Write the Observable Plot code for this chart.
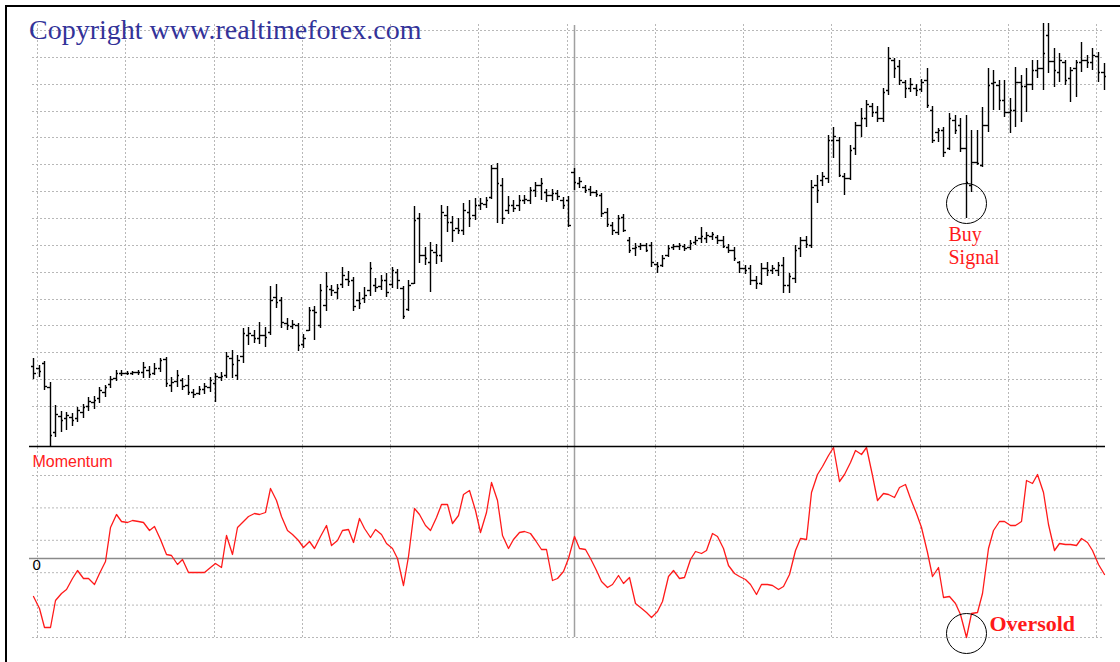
<!DOCTYPE html>
<html><head><meta charset="utf-8">
<script src="https://cdn.jsdelivr.net/npm/d3@7"></script>
<script src="https://cdn.jsdelivr.net/npm/@observablehq/plot@0.6"></script>
<style>
html,body{margin:0;padding:0;background:#fff;}
#wrap{position:relative;width:1120px;height:662px;overflow:hidden;background:#fff;}
#wrap svg{position:absolute;left:0;top:0;}
.frameL{position:absolute;left:5px;top:5px;width:2px;height:657px;background:#000;}
.frameT{position:absolute;left:5px;top:5px;width:1115px;height:2px;background:#000;}
#title{position:absolute;left:29px;top:16px;font-family:"Liberation Serif","Times New Roman",serif;font-size:28px;line-height:28px;color:#333399;white-space:nowrap;z-index:5;}
</style></head>
<body><div id="wrap"><div class="frameL"></div><div class="frameT"></div><div id="title">Copyright www.realtimeforex.com</div></div>
<script>
// ---- data (one entry per daily bar) ----
const high = [
1.1848,1.1841,1.1845,1.1824,1.1801,1.1795,1.1794,1.1793,1.1799,1.1802,
1.1809,1.1810,1.1819,1.1821,1.1830,1.1836,1.1836,1.1835,1.1835,1.1836,
1.1844,1.1840,1.1843,1.1848,1.1849,1.1829,1.1836,1.1828,1.1831,1.1817,
1.1820,1.1823,1.1829,1.1833,1.1834,1.1854,1.1856,1.1851,1.1878,1.1879,
1.1876,1.1884,1.1879,1.1920,1.1922,1.1909,1.1888,1.1886,1.1883,1.1872,
1.1899,1.1900,1.1922,1.1934,1.1921,1.1922,1.1939,1.1935,1.1929,1.1914,
1.1919,1.1944,1.1928,1.1931,1.1933,1.1939,1.1937,1.1920,1.1926,1.2000,
1.1993,1.1959,1.1964,1.1962,1.2001,1.2000,1.1990,1.1988,1.2003,1.2006,
1.2008,1.2008,1.2009,1.2041,1.2043,1.2028,1.2010,1.2006,1.2011,1.2011,
1.2019,1.2024,1.2028,1.2017,1.2017,1.2016,1.2009,1.2010,1.2038,1.2029,
1.2021,1.2020,1.2016,1.2013,1.1998,1.1984,1.1991,1.1992,1.1969,1.1963,
1.1963,1.1963,1.1964,1.1944,1.1951,1.1961,1.1962,1.1963,1.1962,1.1966,
1.1970,1.1979,1.1974,1.1974,1.1971,1.1970,1.1962,1.1959,1.1945,1.1941,
1.1941,1.1930,1.1943,1.1944,1.1941,1.1944,1.1949,1.1933,1.1961,1.1969,
1.1970,1.2026,1.2031,1.2034,1.2071,1.2079,1.2069,1.2033,1.2061,1.2084,
1.2098,1.2106,1.2103,1.2100,1.2118,1.2159,1.2148,1.2146,1.2126,1.2128,
1.2122,1.2127,1.2138,1.2100,1.2078,1.2079,1.2093,1.2091,1.2088,1.2091,
1.2076,1.2076,1.2099,1.2138,1.2136,1.2126,1.2126,1.2108,1.2139,1.2131,
1.2138,1.2146,1.2146,1.2183,1.2183,1.2158,1.2153,1.2146,1.2139,1.2146,
1.2164,1.2151,1.2158,1.2154,1.2143];
const low = [
1.1827,1.1829,1.1816,1.1760,1.1769,1.1774,1.1776,1.1780,1.1784,1.1788,
1.1795,1.1797,1.1803,1.1809,1.1818,1.1825,1.1830,1.1831,1.1831,1.1831,
1.1828,1.1828,1.1831,1.1834,1.1819,1.1814,1.1819,1.1816,1.1811,1.1808,
1.1811,1.1812,1.1814,1.1804,1.1825,1.1828,1.1828,1.1826,1.1843,1.1861,
1.1863,1.1862,1.1859,1.1871,1.1898,1.1878,1.1876,1.1877,1.1855,1.1858,
1.1875,1.1866,1.1878,1.1895,1.1910,1.1907,1.1918,1.1920,1.1895,1.1897,
1.1903,1.1910,1.1914,1.1916,1.1909,1.1918,1.1917,1.1887,1.1895,1.1922,
1.1943,1.1941,1.1914,1.1942,1.1944,1.1974,1.1964,1.1972,1.1971,1.1979,
1.1986,1.1996,1.1998,1.2007,1.1983,1.1982,1.1992,1.1994,1.1995,1.2002,
1.2002,1.2009,1.2006,1.2004,1.2005,1.2006,1.1997,1.1979,1.2016,1.2018,
1.2013,1.2010,1.2009,1.1989,1.1979,1.1971,1.1971,1.1974,1.1953,1.1950,
1.1956,1.1954,1.1939,1.1933,1.1939,1.1949,1.1956,1.1956,1.1955,1.1956,
1.1961,1.1963,1.1963,1.1966,1.1962,1.1958,1.1953,1.1945,1.1933,1.1932,
1.1921,1.1917,1.1921,1.1930,1.1932,1.1930,1.1913,1.1913,1.1923,1.1949,
1.1958,1.1958,1.2003,1.2020,1.2023,1.2048,1.2029,1.2011,1.2026,1.2051,
1.2069,1.2079,1.2089,1.2084,1.2084,1.2111,1.2128,1.2121,1.2108,1.2114,
1.2110,1.2114,1.2098,1.2063,1.2064,1.2049,1.2056,1.2072,1.2054,1.1988,
1.2014,1.2041,1.2039,1.2074,1.2096,1.2096,1.2089,1.2073,1.2079,1.2084,
1.2094,1.2116,1.2128,1.2116,1.2133,1.2119,1.2124,1.2121,1.2104,1.2109,
1.2134,1.2138,1.2136,1.2124,1.2116];
const open = [
1.1840,1.1838,1.1843,1.1819,1.1774,1.1790,1.1788,1.1789,1.1788,1.1794,
1.1800,1.1804,1.1808,1.1814,1.1822,1.1828,1.1833,1.1833,1.1833,1.1834,
1.1834,1.1836,1.1833,1.1838,1.1847,1.1821,1.1825,1.1826,1.1821,1.1814,
1.1813,1.1817,1.1819,1.1823,1.1829,1.1831,1.1848,1.1831,1.1850,1.1871,
1.1871,1.1868,1.1871,1.1874,1.1909,1.1906,1.1883,1.1880,1.1881,1.1862,
1.1876,1.1896,1.1881,1.1901,1.1917,1.1914,1.1922,1.1927,1.1926,1.1906,
1.1908,1.1916,1.1921,1.1920,1.1926,1.1922,1.1934,1.1918,1.1897,1.1923,
1.1988,1.1951,1.1944,1.1954,1.1951,1.1991,1.1984,1.1978,1.1976,1.1994,
1.1991,1.2001,1.2002,1.2009,1.2038,1.2021,1.1996,1.2001,1.2001,1.2006,
1.2006,1.2016,1.2021,1.2014,1.2011,1.2013,1.2006,1.2006,1.2034,1.2023,
1.2019,1.2017,1.2014,1.2011,1.1994,1.1981,1.1974,1.1989,1.1966,1.1958,
1.1960,1.1961,1.1961,1.1942,1.1941,1.1951,1.1959,1.1960,1.1960,1.1959,
1.1964,1.1968,1.1968,1.1970,1.1969,1.1966,1.1959,1.1956,1.1944,1.1938,
1.1938,1.1926,1.1923,1.1938,1.1936,1.1936,1.1941,1.1921,1.1928,1.1958,
1.1966,1.1961,1.2021,1.2026,1.2028,1.2066,1.2066,1.2030,1.2028,1.2058,
1.2081,1.2088,1.2100,1.2094,1.2088,1.2116,1.2146,1.2140,1.2124,1.2118,
1.2118,1.2117,1.2126,1.2096,1.2074,1.2076,1.2058,1.2086,1.2081,1.2058,
1.2021,1.2044,1.2041,1.2081,1.2123,1.2121,1.2106,1.2094,1.2096,1.2124,
1.2120,1.2122,1.2136,1.2138,1.2171,1.2145,1.2134,1.2144,1.2128,1.2138,
1.2144,1.2146,1.2144,1.2150,1.2134];
const close = [
1.1833,1.1835,1.1820,1.1771,1.1792,1.1786,1.1791,1.1786,1.1796,1.1799,
1.1805,1.1806,1.1816,1.1819,1.1827,1.1833,1.1833,1.1833,1.1834,1.1834,
1.1839,1.1832,1.1838,1.1846,1.1823,1.1824,1.1831,1.1820,1.1814,1.1812,
1.1817,1.1820,1.1826,1.1830,1.1830,1.1850,1.1842,1.1846,1.1873,1.1873,
1.1868,1.1871,1.1869,1.1906,1.1904,1.1884,1.1881,1.1882,1.1861,1.1868,
1.1896,1.1894,1.1916,1.1920,1.1916,1.1918,1.1931,1.1925,1.1900,1.1903,
1.1911,1.1938,1.1919,1.1926,1.1914,1.1936,1.1926,1.1890,1.1921,1.1986,
1.1951,1.1948,1.1956,1.1951,1.1994,1.1984,1.1976,1.1976,1.1996,1.1988,
1.2001,1.2003,1.2006,1.2038,1.2023,1.1988,1.2001,1.1998,1.2006,1.2007,
1.2016,1.2021,1.2023,1.2011,1.2013,1.2010,1.2001,1.1981,1.2024,1.2025,
1.2016,1.2014,1.2012,1.1993,1.1982,1.1976,1.1988,1.1976,1.1956,1.1959,
1.1961,1.1956,1.1944,1.1940,1.1948,1.1958,1.1960,1.1961,1.1958,1.1963,
1.1966,1.1970,1.1971,1.1972,1.1966,1.1960,1.1956,1.1948,1.1938,1.1936,
1.1926,1.1923,1.1938,1.1936,1.1938,1.1941,1.1921,1.1930,1.1956,1.1966,
1.1962,1.2019,1.2016,1.2030,1.2066,1.2070,1.2031,1.2028,1.2056,1.2081,
1.2088,1.2102,1.2094,1.2088,1.2114,1.2148,1.2138,1.2126,1.2118,1.2122,
1.2116,1.2124,1.2101,1.2066,1.2076,1.2054,1.2088,1.2076,1.2058,1.2024,
1.2044,1.2043,1.2081,1.2121,1.2124,1.2106,1.2094,1.2096,1.2124,1.2120,
1.2122,1.2136,1.2138,1.2153,1.2145,1.2136,1.2146,1.2126,1.2136,1.2144,
1.2146,1.2144,1.2151,1.2134,1.2130];
// momentum in pips
const momentum = [
-38,-50,-69,-69,-42,-35,-31,-20,-12,-20,
-20,-26,-15,-3,31,44,37,36,38,37,
36,28,32,19,4,3,-6,-1,-14,-14,
-14,-14,-9,-5,-9,23,4,31,37,42,
45,44,46,70,58,42,28,24,18,11,
17,10,22,33,13,18,28,29,16,40,
30,21,29,24,15,10,0,-27,2,50,
44,33,28,41,54,54,35,43,64,68,
48,26,46,76,58,23,10,19,26,27,
25,18,9,9,-22,-20,-13,0,22,10,
9,0,-12,-23,-29,-26,-17,-25,-19,-45,
-49,-54,-59,-53,-43,-18,-12,-20,-19,-1,
7,5,8,25,22,10,-7,-15,-18,-21,
-26,-36,-26,-26,-27,-31,-28,-16,8,20,
19,66,84,92,103,111,77,84,96,108,
104,111,83,58,65,64,61,71,74,60,
45,31,6,-18,-9,-39,-38,-45,-56,-79,
-55,-54,-35,10,28,37,37,33,33,37,
78,75,84,66,34,8,15,14,14,13,
20,16,8,-6,-16];
const signalBar = 169;     // bar marked "Buy Signal" / "Oversold"
const cursorBar = 98;      // vertical cursor line
const buyLabels = ["Buy", "Signal"];
const oversoldLabel = "Oversold";
const momentumLabel = "Momentum";
const zeroLabel = "0";

// ---- layout / scales ----
const W = 1120, H = 662;
const xDomain = [-0.2, 194];
const xRange = [32, 1103.5];
const priceDomain = [1.1760, 1.2184];
const priceRange = [446, 22];
const momDomain = [-79, 112];
const momRange = [637, 446];
const priceGrid = d3.range(15).map(k => 1.18 + k * 0.0376 / 14);
const momGrid = d3.range(6).map(k => momDomain[0] + k * 32.4);
const xGrid = d3.range(13).map(k => 0.7 + 16 * k);

const bars = high.map((h, i) => ({i, h, l: low[i], o: open[i], c: close[i]}));
const mom = momentum.map((v, i) => ({i, v}));
const gridStyle = {stroke: "#b8b8b8", strokeWidth: 1, strokeDasharray: "2,2"};
const cursorStyle = {stroke: "#a0a0a0", strokeWidth: 1.5};
const barStyle = {stroke: "#000", strokeWidth: 1.4};

const topPlot = Plot.plot({
  width: W, height: H, margin: 0,
  style: {background: "transparent"},
  x: {domain: xDomain, range: xRange, axis: null, round: true},
  y: {domain: priceDomain, range: priceRange, axis: null, round: true},
  marks: [
    Plot.ruleY(priceGrid, {y: d => d, x1: () => xDomain[0], x2: () => xDomain[1], ...gridStyle}),
    Plot.ruleX(xGrid, {x: d => d, y1: () => priceDomain[0], y2: () => priceDomain[1], ...gridStyle}),
    Plot.ruleX([cursorBar], {x: d => d, y1: () => priceDomain[0], y2: () => priceDomain[1] - 0.0003, ...cursorStyle}),
    Plot.ruleX(bars, {x: "i", y1: "l", y2: "h", ...barStyle}),
    Plot.ruleY(bars, {y: "o", x1: d => d.i - 0.45, x2: "i", ...barStyle}),
    Plot.ruleY(bars, {y: "c", x1: "i", x2: d => d.i + 0.45, ...barStyle}),
    Plot.ruleY([priceDomain[0]], {y: d => d, x1: () => xDomain[0] - 0.55, x2: () => xDomain[1] + 0.3, stroke: "#000", strokeWidth: 1.5}),
    Plot.dot([bars[signalBar]], {x: "i", y: "l", dy: -15, r: 20, stroke: "#000", strokeWidth: 1, fill: "none"}),
    Plot.text([bars[signalBar]], {x: "i", y: "l", text: () => buyLabels[0], dx: -18, dy: 16, textAnchor: "start",
      fill: "#ff1a1a", fontFamily: "Liberation Serif", fontSize: 20}),
    Plot.text([bars[signalBar]], {x: "i", y: "l", text: () => buyLabels[1], dx: -18, dy: 39, textAnchor: "start",
      fill: "#ff1a1a", fontFamily: "Liberation Serif", fontSize: 20})
  ]
});

const botPlot = Plot.plot({
  width: W, height: H, margin: 0,
  style: {background: "transparent"},
  x: {domain: xDomain, range: xRange, axis: null, round: true},
  y: {domain: momDomain, range: momRange, axis: null},
  marks: [
    Plot.ruleY(momGrid, {y: d => d, x1: () => xDomain[0], x2: () => xDomain[1], ...gridStyle}),
    Plot.ruleX(xGrid, {x: d => d, y1: () => momDomain[0], y2: () => momDomain[1], ...gridStyle}),
    Plot.ruleX([cursorBar], {x: d => d, y1: () => momDomain[0], y2: () => momDomain[1], ...cursorStyle}),
    Plot.ruleY([0], {y: d => d, x1: () => xDomain[0] - 0.55, x2: () => xDomain[1] + 0.3, stroke: "#8a8a8a", strokeWidth: 1.5}),
    Plot.line(mom, {x: "i", y: "v", stroke: "#ff1a1a", strokeWidth: 1.3}),
    Plot.text([momentumLabel], {x: () => xDomain[0], y: () => 96.5, text: d => d, textAnchor: "start",
      fill: "#ff2020", fontFamily: "Liberation Sans", fontSize: 16}),
    Plot.text([zeroLabel], {x: () => xDomain[0], y: () => 0, dy: 7, text: d => d, textAnchor: "start",
      fill: "#000", fontFamily: "Liberation Sans", fontSize: 15}),
    Plot.dot([mom[signalBar]], {x: "i", y: "v", dy: -4, r: 20, stroke: "#000", strokeWidth: 1, fill: "none"}),
    Plot.text([mom[signalBar]], {x: "i", y: "v", text: () => oversoldLabel, dx: 23, dy: -13.5, textAnchor: "start",
      fill: "#ff1a1a", fontFamily: "Liberation Serif", fontSize: 22, fontWeight: "bold"})
  ]
});

const wrap = document.getElementById("wrap");
wrap.insertBefore(botPlot, document.getElementById("title"));
wrap.insertBefore(topPlot, document.getElementById("title"));
</script>
</body></html>
